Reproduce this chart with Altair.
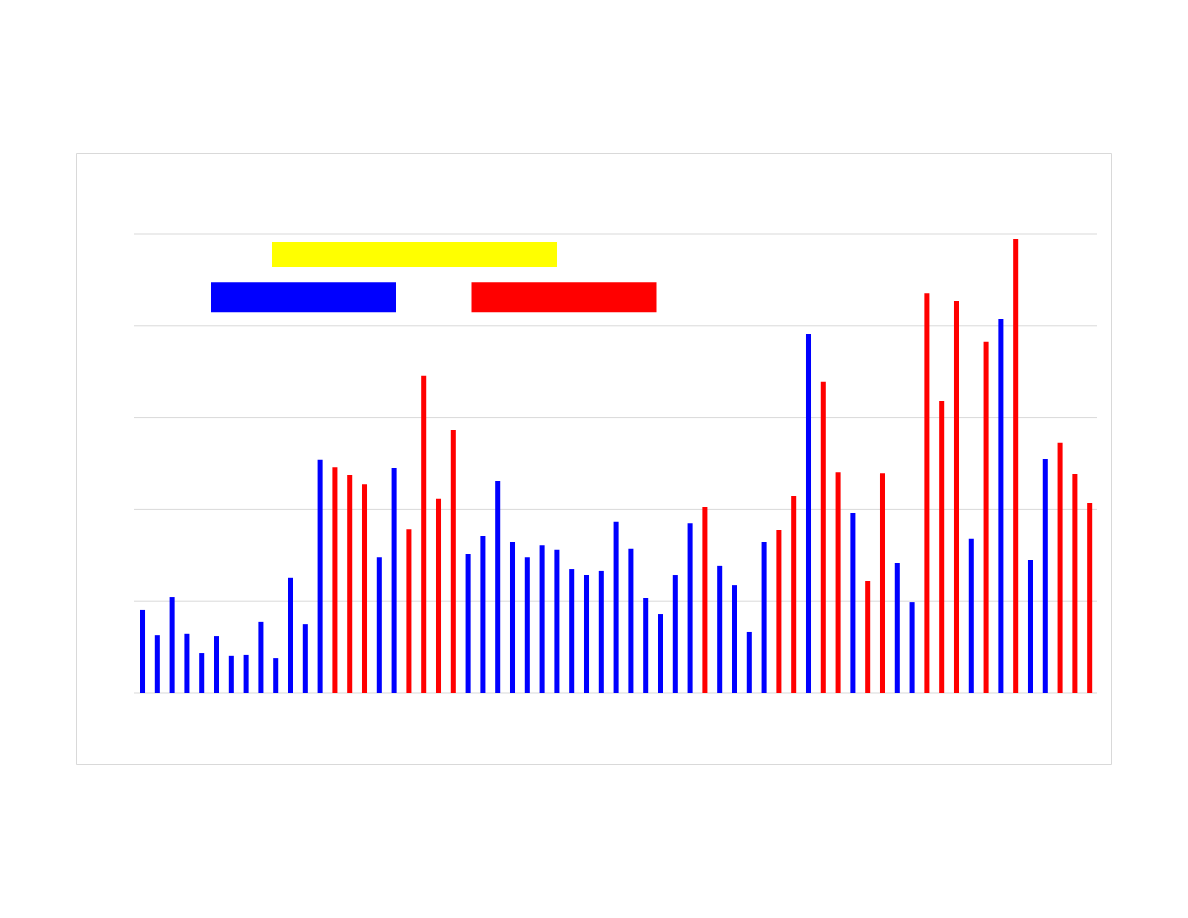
import altair as alt
import pandas as pd

# Bar values (gridlines at 0,20,...,100)
values = [18.1, 12.6, 20.9, 12.9, 8.7, 12.4, 8.1, 8.3, 15.5, 7.6,
          25.1, 15.0, 50.8, 49.2, 47.5, 45.5, 29.6, 49.0, 35.7, 69.1,
          42.3, 57.3, 30.3, 34.2, 46.2, 32.9, 29.6, 32.2, 31.2, 27.0,
          25.7, 26.6, 37.3, 31.4, 20.7, 17.2, 25.7, 37.0, 40.5, 27.7,
          23.5, 13.3, 32.9, 35.5, 42.9, 78.2, 67.8, 48.1, 39.2, 24.4,
          47.9, 28.3, 19.8, 87.1, 63.6, 85.4, 33.6, 76.5, 81.5, 98.9,
          29.0, 51.0, 54.5, 47.7, 41.4]
# B = blue series, R = red series
groups = list("BBBBBBBBBBBBBRRRBBRRRRBBBBBBBBBBBBBBBBRBBBBRRBRRBRRBBRRRBRBRBBRRR")
series_names = ["Series 1", "Series 2"]
series_colors = ["#0000FF", "#FF0000"]
grid_values = [0, 20, 40, 60, 80, 100]

df = pd.DataFrame({
    "idx": [str(i + 1) for i in range(len(values))],
    "value": values,
    "series": [series_names[0] if g == "B" else series_names[1] for g in groups],
})
grid_df = pd.DataFrame({"v": grid_values})

W, H = 1035, 611
y_scale = alt.Scale(domain=[-15.47, 117.65], nice=False, zero=False)

grid = alt.Chart(grid_df).mark_rule(color="#d9d9d9", strokeWidth=1).encode(
    y=alt.Y("v:Q", scale=y_scale, axis=None),
    x=alt.value(58),
    x2=alt.value(1021),
)

bars = alt.Chart(df).mark_bar().encode(
    x=alt.X("idx:N", sort=None, axis=None,
            scale=alt.Scale(range=[58.6, 1021.6], paddingInner=0.66, paddingOuter=0.365)),
    y=alt.Y("value:Q", scale=y_scale, axis=None),
    y2=alt.datum(0),
    color=alt.Color(
        "series:N",
        scale=alt.Scale(domain=series_names, range=series_colors),
        legend=alt.Legend(
            orient="none", legendX=135, legendY=51.5, direction="horizontal",
            title=None, labelExpr="''", labelOffset=0, padding=0,
            symbolType="M-1,-0.162H1V0.162H-1Z", symbolSize=34225,
            symbolStrokeWidth=0, symbolOpacity=1, columnPadding=75.5,
            symbolOffset=0,
        ),
    ),
)

title_box = alt.Chart(grid_df).mark_rect(color="#FFFF00").encode(
    x=alt.value(196), x2=alt.value(481), y=alt.value(89), y2=alt.value(114)
)

chart = alt.layer(grid, bars, title_box).properties(
    width=W, height=H,
    padding={"left": 68, "top": 145, "right": 5, "bottom": 5},
    autosize=alt.AutoSizeParams(type="none"),
    background="white",
).configure_view(stroke="#d9d9d9", strokeWidth=1)

chart.save("out.html", embed_options={"renderer": "svg", "actions": False})
